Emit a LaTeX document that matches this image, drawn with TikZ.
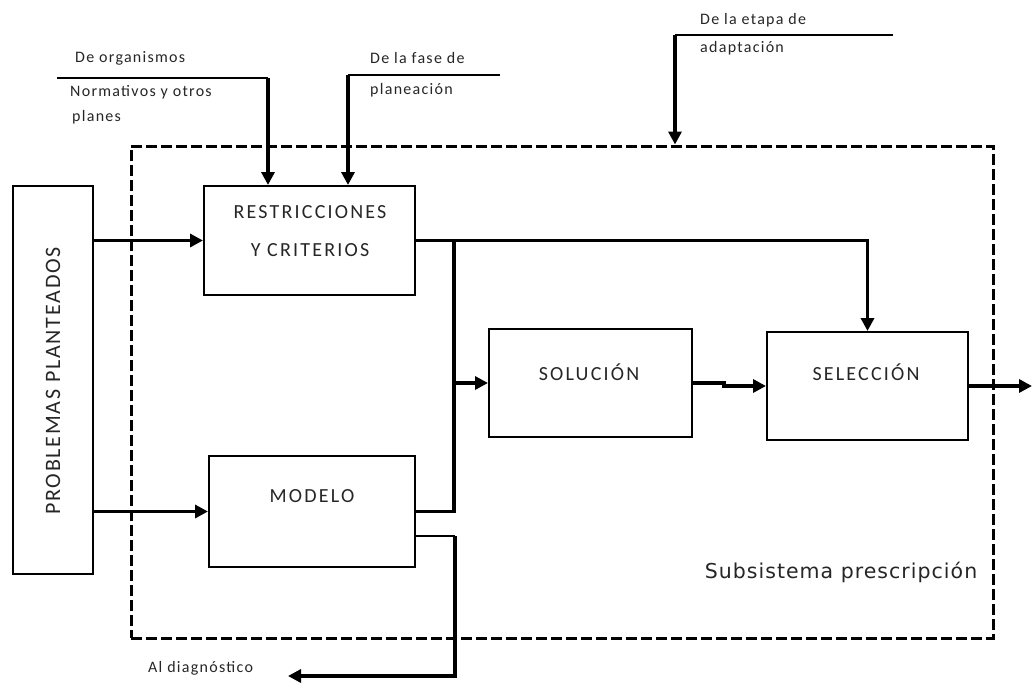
\documentclass[tikz,border=0pt]{standalone}
\usepackage{fontspec}
\setmainfont{Carlito}
\newfontfamily\carl{Carlito}[LetterSpace=11]
\newfontfamily\carlw{Carlito}[LetterSpace=8]
\newfontfamily\dejav{DejaVu Sans}[LetterSpace=5]
\usetikzlibrary{arrows.meta,calc}
\begin{document}
\begin{tikzpicture}[x=1pt,y=-1pt,
 box/.style={draw, line width=2pt, inner sep=0pt},
 thickln/.style={line width=3.5pt},
 thinln/.style={line width=2pt},
 arr/.style={line width=3.5pt, -{Triangle[length=13pt,width=13pt]}},
 dashbox/.style={draw, line width=3pt, dash pattern=on 11pt off 4pt, inner sep=0pt},
 boxtext/.style={font=\carl\fontsize{20}{38}\selectfont, align=center, text=black!85, inner sep=0pt},
 smalltext/.style={font=\carlw\fontsize{16}{18}\selectfont, anchor=west, inner sep=0pt, text=black!85},
]
\useasboundingbox (0,0) rectangle (1033,685);

% frame and boxes
\node[dashbox, minimum width=862pt, minimum height=492pt] (sub) at (562,392) {};
\node[box, minimum width=80pt, minimum height=388pt] (prob) at (53,380) {};
\node[rotate=90, font=\carlw\fontsize{22}{24}\selectfont, text=black!85, inner sep=0pt] (probT) at (53,381) {PROBLEMAS PLANTEADOS};
\node[box, minimum width=211pt, minimum height=109pt] (rest) at (309.5,240.5) {};
\node[boxtext] (restT) at (310,231) {RESTRICCIONES\\Y CRITERIOS};
\node[box, minimum width=206pt, minimum height=111pt] (modelo) at (312,511.5) {};
\node[boxtext] (modeloT) at (312,496) {MODELO};
\node[box, minimum width=203pt, minimum height=108pt] (sol) at (590.5,383) {};
\node[boxtext] (solT) at (589,372) {SOLUCIÓN};
\node[box, minimum width=201pt, minimum height=108pt] (sel) at (867.5,386) {};
\node[boxtext] (selT) at (866,372) {SELECCIÓN};
\node[font=\dejav\fontsize{20.5}{23}\selectfont, text=black!85, inner sep=0pt] (subT) at (841,572) {Subsistema prescripción};

% small labels
\node[smalltext] (t1a) at (75,58) {De organismos};
\node[smalltext] (t1b) at (70,92) {Normativos y otros};
\node[smalltext] (t1c) at (72,117) {planes};
\node[smalltext] (t2a) at (370,58) {De la fase de};
\node[smalltext] (t2b) at (370,90) {planeación};
\node[smalltext] (t3a) at (700,20) {De la etapa de};
\node[smalltext] (t3b) at (700,48) {adaptación};
\node[smalltext] (diagT) at (148,668) {Al diagnóstico};

% coordinates
\coordinate (jn) at ($(rest.east)+(38,0)$);
\coordinate (jog) at ($(sol.east)+(31,0)$);
\coordinate (out) at ($(sel.east)+(63,0)$);
\coordinate (m2) at ($(modelo.south east)+(0,-32)$);
\coordinate (m2c) at ($(m2)+(39,0)$);
\coordinate (m2d) at (m2c |- 0,676);
\coordinate (diag) at (288,676);
\coordinate (i1s) at (57,78);
\coordinate (i1c) at (268,78);
\coordinate (i2s) at (500,75);
\coordinate (i2c) at (348,75);
\coordinate (i3s) at (893,35);
\coordinate (i3c) at (675,35);

% connectors
\draw[arr] (rest.west -| prob.east) -- (rest.west);
\draw[arr] (modelo.west -| prob.east) -- (modelo.west);
\draw[arr] (rest.east) -| (sel.north);
\draw[thickln] (modelo.east) -| (jn);
\draw[arr] (jn |- sol.west) -- (sol.west);
\draw[arr] (sol.east) -- (jog) |- (sel.west);
\draw[arr] (sel.east) -- (out);
\draw[thinln] (m2) -- (m2c);
\draw[arr, line join=miter] (m2c) -- (m2d) -- (diag);
\draw[thinln] (i1s) -- (i1c);
\draw[arr] (i1c) -- (i1c |- rest.north);
\draw[thinln] (i2s) -- (i2c);
\draw[arr] (i2c) -- (i2c |- rest.north);
\draw[thinln] (i3s) -- (i3c);
\draw[arr] (i3c) -- (i3c |- sub.north);
\end{tikzpicture}
\end{document}
